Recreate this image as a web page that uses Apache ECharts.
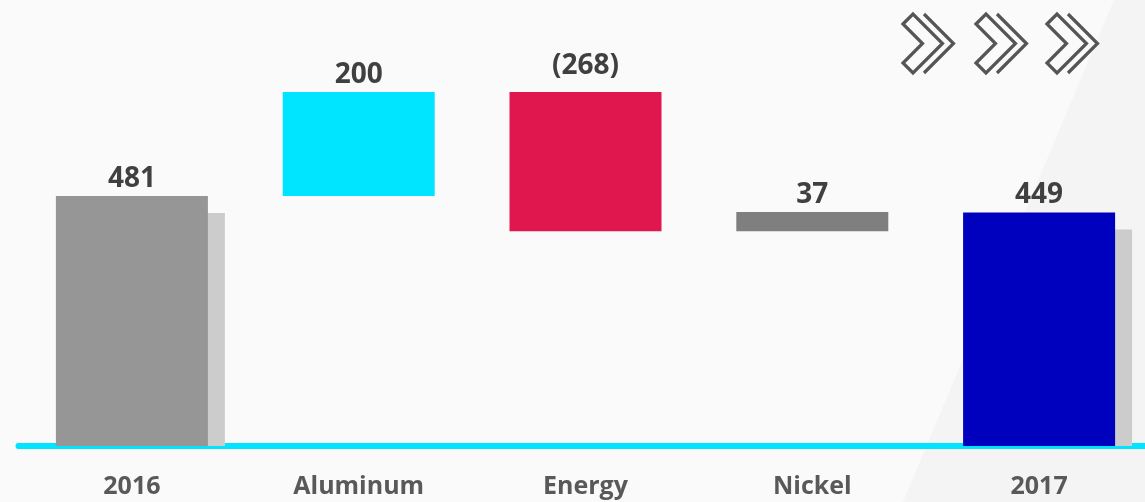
<!DOCTYPE html>
<html>
<head>
<meta charset="utf-8">
<script src="https://cdn.jsdelivr.net/npm/echarts@6/dist/echarts.min.js"></script>
<style>
html,body{margin:0;padding:0;background:#fafafa;}
#chart{width:1145px;height:502px;}
</style>
</head>
<body>
<div id="chart"></div>
<script>
// ---- data ----
const categories = ['2016', 'Aluminum', 'Energy', 'Nickel', '2017'];
const changes = [481, 200, -268, 37, 449];
const isTotal = [true, false, false, false, true];
const barColors = ['#969696', '#00e5ff', '#e0174f', '#7f7f7f', '#0000bf'];

// ---- derived waterfall layout (values only) ----
const baseVals = [];
const heightVals = [];
const labelTexts = [];
let running = 0;
changes.forEach(function (v, i) {
  if (isTotal[i]) {
    baseVals.push(0); heightVals.push(v); running = v;
  } else if (v >= 0) {
    baseVals.push(running); heightVals.push(v); running += v;
  } else {
    running += v; baseVals.push(running); heightVals.push(-v);
  }
  labelTexts.push(v < 0 ? '(' + (-v) + ')' : String(v));
});
const shadowData = [];
changes.forEach(function (v, i) { if (isTotal[i]) shadowData.push([i, v]); });

const BAR_W = 152;
const SH = 17;

const chart = echarts.init(document.getElementById('chart'));

function chevron(L) {
  return [
    {
      type: 'polygon', z: 5,
      shape: { points: [[L, 24], [L + 10, 14], [L + 39.5, 43.5], [L + 10, 73], [L, 63], [L + 19.5, 43.5]] },
      style: { fill: 'none', stroke: '#555555', lineWidth: 3.2, lineJoin: 'miter' }
    },
    {
      type: 'polyline', z: 5,
      shape: { points: [[L + 21, 14], [L + 50.5, 43.5], [L + 21, 73]] },
      style: { fill: 'none', stroke: '#555555', lineWidth: 3.2, lineJoin: 'miter' }
    }
  ];
}

const graphics = [
  {
    type: 'polygon', z: -10, silent: true,
    shape: { points: [[1114, 0], [1145, 0], [1145, 502], [903, 502]] },
    style: { fill: '#f4f4f4' }
  }
].concat(chevron(903), chevron(976), chevron(1047));

const FONT = 'Open Sans';

chart.setOption({
  backgroundColor: '#fafafa',
  animation: false,
  graphic: graphics,
  grid: { left: 18.5, width: 1134, top: 30, bottom: 56, containLabel: false, outerBoundsMode: 'none' },
  xAxis: {
    type: 'category',
    data: categories,
    offset: 3,
    axisTick: { show: false },
    axisLine: { lineStyle: { color: '#00e5ff', width: 6 } },
    axisLabel: {
      margin: 25,
      color: '#595959',
      fontFamily: FONT,
      fontWeight: 'bold',
      fontSize: 25
    }
  },
  yAxis: {
    type: 'value', min: 0, max: 800, show: false,
    splitLine: { show: false }
  },
  series: [
    {
      type: 'custom',
      z: 1,
      silent: true,
      data: shadowData,
      renderItem: function (params, api) {
        const idx = api.value(0), v = api.value(1);
        const top = api.coord([idx, v]);
        const bot = api.coord([idx, 0]);
        return {
          type: 'rect',
          shape: { x: top[0] - BAR_W / 2 + SH, y: top[1] + SH, width: BAR_W, height: bot[1] - top[1] - SH },
          style: { fill: '#cccccc' }
        };
      }
    },
    {
      type: 'bar',
      stack: 'wf',
      barWidth: BAR_W,
      silent: true,
      itemStyle: { color: 'transparent' },
      data: baseVals
    },
    {
      type: 'bar',
      stack: 'wf',
      barWidth: BAR_W,
      z: 3,
      data: heightVals.map(function (h, i) {
        const item = { value: h, itemStyle: { color: barColors[i] } };
        if (changes[i] < 0) item.label = { distance: 12 };
        return item;
      }),
      label: {
        show: true,
        position: 'top',
        distance: 3,
        color: '#404040',
        fontFamily: FONT,
        fontWeight: 'bold',
        fontSize: 28,
        formatter: function (p) { return labelTexts[p.dataIndex]; }
      }
    }
  ]
});
</script>
</body>
</html>
